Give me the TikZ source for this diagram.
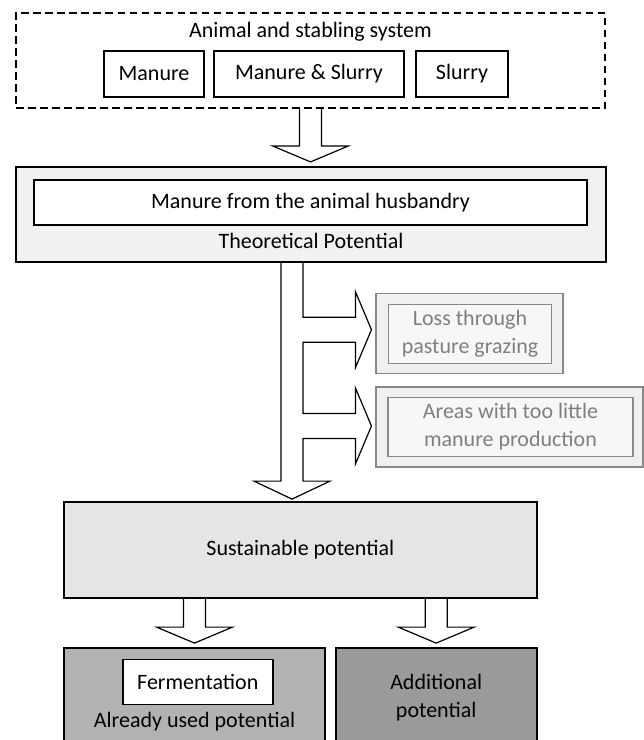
\documentclass[tikz,border=0pt]{standalone}
\usepackage{fontspec}
\setmainfont{Carlito}
\usetikzlibrary{calc}

\definecolor{panelgray}{HTML}{F1F1F1}
\definecolor{sustgray}{HTML}{E5E5E5}
\definecolor{usedgray}{HTML}{B2B2B2}
\definecolor{addgray}{HTML}{9A9A9A}
\definecolor{lossline}{HTML}{888888}
\definecolor{losstext}{HTML}{7F7F7F}
\definecolor{lossfill}{HTML}{F0F0F0}
\definecolor{lossfillin}{HTML}{F7F7F7}

\tikzstyle{box} = [draw, line width=1.5pt, fill=white, inner sep=0pt, minimum height=46pt]
\tikzstyle{dashbox} = [draw, line width=1.5pt, dash pattern=on 7.5pt off 4.5pt, inner sep=0pt]
\tikzstyle{panel} = [draw, line width=1.8pt, inner sep=0pt]
\tikzstyle{lossbox} = [draw=lossline, fill=lossfill, line width=1.5pt, inner sep=0pt]
\tikzstyle{lossinner} = [draw=lossline, fill=lossfillin, text=losstext, line width=1.5pt, inner sep=0pt]
\tikzstyle{blockline} = [line width=1.2pt, line join=miter]

% fat arrow pointing down, from #1 to the tip #2 (same x)
\newcommand{\blockarrow}[2]{%
  \draw[blockline] ($(#1)+(-11,0)$) -- ($(#2)+(-11,-16)$) -- ++(-27,0) -- (#2)
    -- ++(38,-16) -- ++(-27,0) -- ($(#1)+(11,0)$);}

\begin{document}
\begin{tikzpicture}[x=1pt, y=-1pt, every node/.style={font=\fontsize{22}{28}\selectfont, align=center}]
        \useasboundingbox (0,0) rectangle (644,740);
        \clip (0,0) rectangle (644,740);

        % animal and stabling system
        \node at (310.5,60.5) [dashbox, minimum width=589pt, minimum height=95pt](stab) {};
        \node at (310.5,32) (stabtext) {Animal and stabling system};
        \node at (154,74) [box, minimum width=100pt](manure) {Manure};
        \node at (309,74) [box, minimum width=190pt](mands) {Manure \& Slurry};
        \node at (462,74) [box, minimum width=92pt](slurry) {Slurry};

        % theoretical potential
        \node at (311,214.3) [panel, fill=panelgray, minimum width=590pt, minimum height=95pt](theo) {};
        \node at (310.5,202.5) [box, minimum width=553pt, minimum height=45pt](husb) {Manure from the animal husbandry};
        \node at (311,241) (theotext) {Theoretical Potential};

        % losses
        \node at (469.7,333.7) [lossbox, minimum width=187pt, minimum height=80pt](loss) {};
        \node at (470,334) [lossinner, minimum width=163pt, minimum height=59pt](losstext) {Loss through\\pasture grazing};
        \node at (509.7,427) [lossbox, minimum width=267pt, minimum height=80pt](areas) {};
        \node at (510.5,427) [lossinner, minimum width=245pt, minimum height=58.6pt](areastext) {Areas with too little\\manure production};

        % sustainable potential
        \node at (300.3,550) [panel, fill=sustgray, minimum width=473pt, minimum height=96pt](sust) {Sustainable potential};

        % used and additional potential
        \node at (194.5,708) [panel, fill=usedgray, minimum width=261pt, minimum height=120pt](used) {};
        \node at (197.8,682) [box, minimum width=150pt, minimum height=45pt](ferm) {Fermentation};
        \node at (194.5,722) (usedtext) {Already used potential};
        \node at (436.2,708) [panel, fill=addgray, minimum width=201pt, minimum height=120pt](addl) {};
        \node at (436.2,698) (addltext) {Additional\\potential};

        % fat arrows
        \coordinate (t1) at ($(stab.south |- theo.north)+(0,-4)$);
        \blockarrow{stab.south}{t1}

        \coordinate (m0) at ($(theo.south)+(-19,0)$);
        \coordinate (m1) at ($(m0 |- sust.north)+(0,-2)$);
        \coordinate (b1) at ($(loss.west)+(-4,-4)$);
        \coordinate (b2) at ($(areas.west)+(-4,-1)$);
        \draw[blockline] ($(m0)+(-11,0)$) -- ($(m1)+(-11,-18)$) -- ++(-27,0) -- (m1)
            -- ++(38,-18) -- ++(-27,0)
            -- ($(m0 |- b2)+(11,12.5)$) -- ($(b2)+(-16,12.5)$) -- ($(b2)+(-16,38)$) -- (b2)
            -- ($(b2)+(-16,-38)$) -- ($(b2)+(-16,-12.5)$) -- ($(m0 |- b2)+(11,-12.5)$)
            -- ($(m0 |- b1)+(11,12.5)$) -- ($(b1)+(-16,12.5)$) -- ($(b1)+(-16,38)$) -- (b1)
            -- ($(b1)+(-16,-38)$) -- ($(b1)+(-16,-12.5)$) -- ($(m0 |- b1)+(11,-12.5)$)
            -- ($(m0)+(11,0)$);

        \coordinate (s3) at (used.north |- sust.south);
        \coordinate (t3) at ($(used.north)+(0,-4)$);
        \blockarrow{s3}{t3}
        \coordinate (s4) at (addl.north |- sust.south);
        \coordinate (t4) at ($(addl.north)+(0,-4)$);
        \blockarrow{s4}{t4}

    \end{tikzpicture}
\end{document}
